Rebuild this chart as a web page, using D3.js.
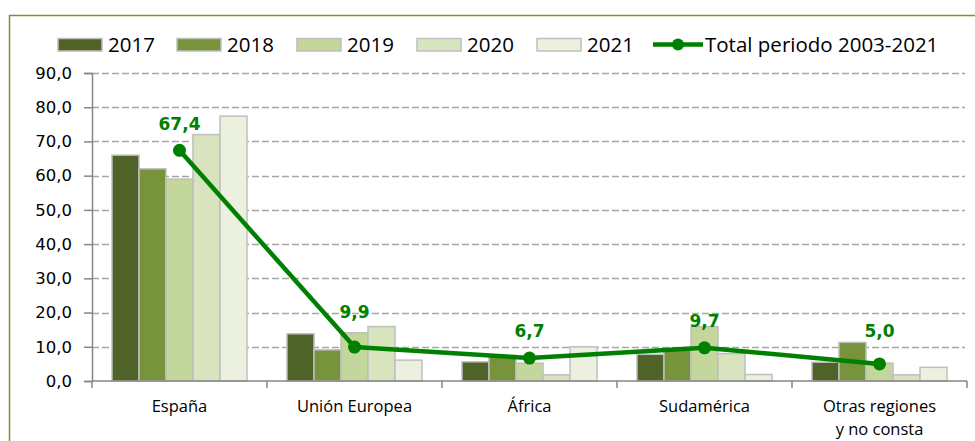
<!DOCTYPE html>
<html><head><meta charset="utf-8">
<script src="https://cdn.jsdelivr.net/npm/d3@7"></script>
<style>body{margin:0;background:#fff}svg{display:block}</style>
</head><body>
<svg id="c" width="975" height="441"></svg>
<script>
const categories = ["España", "Unión Europea", "África", "Sudamérica", "Otras regiones\ny no consta"];
const years = ["2017", "2018", "2019", "2020", "2021"];
const v2017 = [66.0, 13.8, 5.6, 7.8, 5.5];
const v2018 = [62.0, 9.1, 7.5, 9.2, 11.3];
const v2019 = [59.0, 14.1, 5.2, 15.9, 5.2];
const v2020 = [72.0, 15.9, 1.8, 8.0, 1.8];
const v2021 = [77.4, 6.1, 10.0, 1.9, 4.0];
const totalPeriodo = [67.4, 9.9, 6.7, 9.7, 5.0];
const totalLabel = "Total periodo 2003-2021";
const yTicks = [0, 10, 20, 30, 40, 50, 60, 70, 80, 90];

const series = [v2017, v2018, v2019, v2020, v2021];
const colors = ["#4F6228", "#77933C", "#C3D69B", "#D7E4BD", "#EBF1DE"];
const labelDy = [-20, -29, -21, -21, -27];

const svg = d3.select("#c");
const L = 92, R = 967, T = 73, B = 381;

// border
svg.append("path").attr("d", `M9.5,441 V15.5 H975`).attr("fill","none").attr("stroke","#77933C").attr("stroke-width",1.5);

const x = d3.scaleBand().domain(d3.range(categories.length)).range([L, R]).paddingInner(0).paddingOuter(0);
const xs = d3.scaleBand().domain(d3.range(years.length)).range([0, x.bandwidth()]).paddingInner(0).paddingOuter(0.74);
const y = d3.scaleLinear().domain([0, 90]).range([B, T]);

// gridlines
svg.append("g").selectAll("line").data(yTicks.filter(d => d > 0)).join("line")
  .attr("x1", L).attr("x2", 965).attr("y1", d => Math.round(y(d)) + 0.5).attr("y2", d => Math.round(y(d)) + 0.5)
  .attr("stroke", "#A6A6A6").attr("stroke-width", 1.5).attr("stroke-dasharray", "7,3");

// y axis
const ya = svg.append("g").attr("transform", `translate(${L},0)`)
  .call(d3.axisLeft(y).tickValues(yTicks).tickSize(8).tickPadding(12).tickFormat(d => d3.format(".1f")(d).replace(".", ",")));
ya.select(".domain").attr("stroke", "#868686").attr("stroke-width", 1.5);
ya.selectAll(".tick line").attr("stroke", "#868686").attr("stroke-width", 1.5);
ya.selectAll("text").attr("font-family", "DejaVu Sans").attr("font-size", 16.5).attr("fill", "#000");

// bars
const bars = svg.append("g");
series.forEach((s, i) => {
  bars.selectAll(null).data(s).join("rect")
    .attr("x", (d, j) => x(j) + xs(i))
    .attr("y", d => y(d))
    .attr("width", xs.bandwidth())
    .attr("height", d => B - y(d))
    .attr("fill", colors[i]).attr("stroke", "#BFBFBF").attr("stroke-width", 1.5);
});

// x axis
const xa = svg.append("g").attr("transform", `translate(0,${B})`);
xa.append("line").attr("x1", L).attr("x2", R).attr("stroke", "#868686").attr("stroke-width", 1.5);
xa.selectAll(".tk").data(d3.range(categories.length + 1)).join("line")
  .attr("x1", i => i < categories.length ? x(i) : R).attr("x2", i => i < categories.length ? x(i) : R)
  .attr("y1", 0).attr("y2", 7).attr("stroke", "#868686").attr("stroke-width", 1.5);
categories.forEach((c, i) => {
  const t = xa.append("text").attr("text-anchor", "middle").attr("font-family", "Open Sans").attr("font-size", 16.5).attr("fill", "#000");
  c.split("\n").forEach((ln, k) => {
    t.append("tspan").attr("x", x(i) + x.bandwidth() / 2).attr("y", 31 + k * 23).text(ln);
  });
});

// line
const cx = i => x(i) + x.bandwidth() / 2;
svg.append("path").datum(totalPeriodo)
  .attr("d", d3.line().x((d, i) => cx(i)).y(d => y(d)))
  .attr("fill", "none").attr("stroke", "#008000").attr("stroke-width", 4.5).attr("stroke-linejoin", "round");
svg.append("g").selectAll("circle").data(totalPeriodo).join("circle")
  .attr("cx", (d, i) => cx(i)).attr("cy", d => y(d)).attr("r", 6.5).attr("fill", "#008000");
svg.append("g").selectAll("text").data(totalPeriodo).join("text")
  .attr("x", (d, i) => cx(i)).attr("y", (d, i) => y(d) + labelDy[i])
  .attr("text-anchor", "middle").attr("font-family", "DejaVu Sans").attr("font-weight", "bold")
  .attr("font-size", 17).attr("fill", "#008000")
  .text(d => d3.format(".1f")(d).replace(".", ","));

// legend
const lg = svg.append("g");
const lx = [58, 177, 297, 417, 537];
years.forEach((yr, i) => {
  lg.append("rect").attr("x", lx[i]).attr("y", 38.5).attr("width", 44).attr("height", 12.5)
    .attr("fill", colors[i]).attr("stroke", "#BFBFBF").attr("stroke-width", 1.5);
  lg.append("text").attr("x", lx[i] + 50).attr("y", 51.5).attr("font-family", "Open Sans").attr("font-size", 20.5).attr("fill", "#000").text(yr);
});
lg.append("line").attr("x1", 653).attr("x2", 703).attr("y1", 44.5).attr("y2", 44.5).attr("stroke", "#008000").attr("stroke-width", 4.5);
lg.append("circle").attr("cx", 678).attr("cy", 44.5).attr("r", 6).attr("fill", "#008000");
lg.append("text").attr("x", 705).attr("y", 51.5).attr("font-family", "Open Sans").attr("font-size", 20.5).attr("fill", "#000").text(totalLabel);
</script>
</body></html>
